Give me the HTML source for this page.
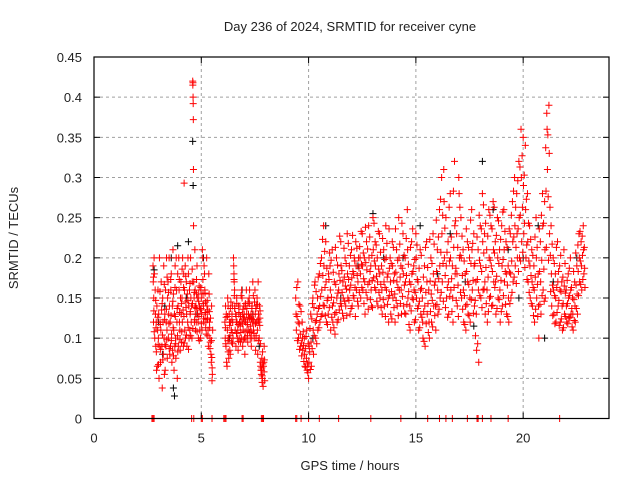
<!DOCTYPE html>
<html><head><meta charset="utf-8"><style>
html,body{margin:0;padding:0;background:#fff}
svg{display:block;font-family:"Liberation Sans",sans-serif}
</style></head><body>
<svg id="chart" width="640" height="480" viewBox="0 0 640 480" xmlns="http://www.w3.org/2000/svg">
<rect width="640" height="480" fill="#fff"/>
<text x="350" y="31" font-size="13" text-anchor="middle" fill="#222">Day 236 of 2024, SRMTID for receiver cyne</text>
<text x="0" y="0" font-size="13" text-anchor="middle" fill="#222" transform="translate(18,238) rotate(-90)">SRMTID / TECUs</text>
<text x="350" y="470" font-size="13" text-anchor="middle" fill="#222">GPS time / hours</text>
<g id="grid"></g>
<g id="zeros"></g>
<g id="blk"></g>
<g id="red"></g>
<g id="axes"></g>
</svg>
<script>
const xTicks = [0,5,10,15,20];
const yTicks = [0,0.05,0.1,0.15,0.2,0.25,0.3,0.35,0.4,0.45];
const yTickLabels = ["0","0.05","0.1","0.15","0.2","0.25","0.3","0.35","0.4","0.45"];
const redHours = [2.75,2.8,2.85,2.9,2.95,3.0,3.05,3.1,3.15,3.2,3.25,3.3,3.35,3.4,3.45,3.5,3.55,3.6,3.65,3.7,3.75,3.8,3.85,3.9,3.95,4.0,4.05,4.1,4.15,4.2,4.25,4.3,4.35,4.4,4.45,4.5,4.55,4.6,4.65,4.7,4.75,4.8,4.85,4.9,4.95,5.0,5.05,5.1,5.15,5.2,5.25,5.3,5.35,5.4,5.45,5.5,
6.1,6.15,6.2,6.25,6.3,6.35,6.4,6.45,6.5,6.55,6.6,6.65,6.7,6.75,6.8,6.85,6.9,6.95,7.0,7.05,7.1,7.15,7.2,7.25,7.3,7.35,7.4,7.45,7.5,7.55,7.6,7.65,7.7,7.75,7.8,7.85,7.9,
9.4,9.5,9.6,9.7,9.8,9.9,10.0,10.1,10.2,10.3,10.4,10.5,10.6,10.7,10.8,10.9,11.0,11.1,11.2,11.3,11.4,11.5,11.6,11.7,11.8,11.9,12.0,12.1,12.2,12.3,12.4,12.5,12.6,12.7,12.8,12.9,13.0,13.1,13.2,13.3,13.4,13.5,13.6,13.7,13.8,13.9,14.0,14.1,14.2,14.3,14.4,14.5,14.6,14.7,14.8,14.9,15.0,15.1,15.2,15.3,15.4,15.5,15.6,15.7,15.8,15.9,16.0,16.1,16.2,16.3,16.4,16.5,16.6,16.7,16.8,16.9,17.0,17.1,17.2,17.3,17.4,17.5,17.6,17.7,17.8,17.9,18.0,18.1,18.2,18.3,18.4,18.5,18.6,18.7,18.8,18.9,19.0,19.1,19.2,19.3,19.4,19.5,19.6,19.7,19.8,19.9,20.0,20.1,20.2,20.3,20.4,20.5,20.6,20.7,20.8,20.9,21.0,21.1,21.2,21.3,21.4,21.5,21.6,21.7,21.8,21.9,22.0,22.1,22.2,22.3,22.4,22.5,22.6,22.7,22.8];
const redValues = [[.19,.17,.12,.15],[.2,.18,.1],[.16,.13,.09],[.12,.06,.14],[.065,.11,.16],[.1,.13,.05],[.2,.09,.12],[.07,.11,.17],[.135,.09,.038],[.15,.12,.08],[.19,.1,.055],[.13,.06,.16],[.09,.12,.2],[.11,.075,.15],[.17,.1,.13],[.2,.14,.08],[.12,.09,.16],[.18,.105,.07],[.14,.085,.21],[.155,.11,.06],[.13,.09,.19],[.1,.075,.2],[.16,.12,.05],[.18,.14,.09],[.2,.16,.12],[.11,.085,.15],[.17,.13,.095],[.15,.12,.2],[.135,.09,.18],[.293,.16,.11],[.19,.1,.145],[.17,.13,.09],[.155,.12,.2],[.18,.14,.1],[.16,.11,.13],[.2,.15,.12],[.14,.1,.17],[.42,.415,.418,.40,.392,.372,.31,.24],[.17,.15,.12],[.21,.16,.13,.11],[.14,.12,.155],[.19,.15,.13],[.12,.1,.155],[.165,.14,.11],[.135,.1,.16],[.15,.13,.11],[.21,.2,.155],[.14,.12,.19],[.18,.16,.13],[.145,.12,.105],[.2,.14,.125],[.135,.11,.09],[.18,.155,.12],[.1,.095,.125],[.08,.07,.14],[.047,.055,.11],
[.12,.1,.14],[.09,.13,.07],[.065,.11,.15],[.14,.1,.075],[.13,.12,.085],[.08,.12,.145],[.11,.095,.13],[.14,.12,.1],[.2,.19,.18,.17],[.16,.14,.11],[.13,.09,.12],[.15,.12,.1],[.11,.085,.14],[.13,.1,.12],[.14,.115,.095],[.12,.1,.16],[.15,.13,.09],[.11,.125,.14],[.13,.1,.08],[.14,.12,.1],[.16,.13,.11],[.12,.095,.145],[.13,.11,.15],[.16,.125,.1],[.115,.13,.09],[.1,.14,.12],[.17,.13,.11],[.12,.1,.145],[.16,.13,.085],[.1,.14,.12],[.15,.11,.08],[.17,.13,.12],[.1,.14,.125],[.07,.065,.06],[.055,.06,.075,.045],[.05,.068,.04],[.065,.07,.09],
[.15,.13,.11],[.17,.12,.1],[.14,.105,.09],[.12,.1,.085],[.1,.08,.065],[.075,.11,.06],[.05,.07,.09],[.13,.095,.065],[.15,.11,.08],[.17,.12,.1],[.13,.15,.11],[.18,.14,.12],[.2,.16,.13],[.24,.19,.14],[.22,.17,.12],[.15,.13,.18],[.19,.16,.11],[.21,.14,.12],[.17,.13,.105],[.2,.15,.12],[.16,.18,.135],[.22,.19,.14],[.17,.15,.125],[.2,.165,.14],[.23,.18,.15],[.19,.16,.13],[.21,.175,.14],[.18,.15,.2],[.22,.19,.16],[.17,.14,.2],[.2,.18,.15],[.23,.19,.16],[.2,.17,.13],[.22,.185,.15],[.24,.2,.17],[.19,.16,.14],[.25,.21,.175],[.22,.19,.16],[.2,.17,.14],[.23,.18,.15],[.19,.16,.13],[.21,.17,.14],[.24,.2,.16],[.18,.15,.12],[.2,.17,.13],[.22,.19,.15],[.18,.155,.12],[.21,.17,.14],[.25,.2,.16],[.19,.16,.13],[.23,.18,.14],[.2,.17,.13],[.26,.21,.15],[.17,.14,.11],[.22,.18,.15],[.19,.16,.12],[.23,.2,.15],[.17,.14,.11],[.21,.16,.13],[.15,.12,.1],[.19,.14,.09],[.22,.17,.13],[.16,.12,.1],[.2,.155,.12],[.23,.18,.14],[.17,.14,.11],[.21,.16,.13],[.26,.19,.15],[.3,.23,.17],[.31,.27,.2],[.25,.19,.15],[.22,.17,.13],[.28,.2,.16],[.19,.15,.12],[.32,.24,.18],[.23,.18,.14],[.3,.28,.2],[.25,.2,.15],[.21,.16,.12],[.18,.14,.11],[.22,.17,.13],[.2,.15,.12],[.26,.21,.16],[.23,.19,.14],[.17,.13,.085],[.21,.16,.07],[.24,.19,.15],[.28,.22,.16],[.23,.17,.13],[.21,.16,.12],[.26,.2,.15],[.24,.19,.14],[.27,.21,.17],[.22,.17,.13],[.25,.2,.15],[.21,.16,.12],[.24,.19,.14],[.26,.21,.17],[.22,.18,.13],[.19,.15,.12],[.23,.18,.15],[.27,.22,.17],[.3,.24,.19],[.28,.23,.2],[.32,.25,.2],[.36,.3,.22],[.35,.29,.23],[.34,.26,.2],[.28,.22,.17],[.24,.19,.15],[.21,.17,.14],[.19,.16,.12],[.25,.2,.15],[.18,.14,.1],[.22,.17,.13],[.28,.24,.16],[.27,.21,.15],[.38,.36,.31],[.39,.33,.23],[.24,.18,.14],[.2,.16,.13],[.18,.15,.12],[.22,.17,.14],[.19,.16,.12],[.17,.14,.11],[.21,.165,.13],[.16,.14,.12],[.18,.15,.125],[.2,.16,.13],[.15,.13,.11],[.17,.14,.12],[.19,.155,.13],[.23,.2,.17],[.22,.19,.16],[.24,.21,.18]];
const redHours2 = [2.775,2.875,2.975,3.075,3.175,3.275,3.375,3.475,3.575,3.675,3.775,3.875,3.975,4.075,4.175,4.275,4.375,4.475,4.575,4.675,4.775,4.875,4.975,5.075,5.175,5.275,5.375,5.475,
6.125,6.225,6.325,6.425,6.525,6.625,6.725,6.825,6.925,7.025,7.125,7.225,7.325,7.425,7.525,7.625,7.725,7.825,7.925,
9.45,9.55,9.65,9.75,9.85,9.95,10.05,10.15,10.25,10.35,10.45,10.55,10.65,10.75,10.85,10.95,11.05,11.15,11.25,11.35,11.45,11.55,11.65,11.75,11.85,11.95,12.05,12.15,12.25,12.35,12.45,12.55,12.65,12.75,12.85,12.95,13.05,13.15,13.25,13.35,13.45,13.55,13.65,13.75,13.85,13.95,14.05,14.15,14.25,14.35,14.45,14.55,14.65,14.75,14.85,14.95,15.05,15.15,15.25,15.35,15.45,15.55,15.65,15.75,15.85,15.95,16.05,16.15,16.25,16.35,16.45,16.55,16.65,16.75,16.85,16.95,17.05,17.15,17.25,17.35,17.45,17.55,17.65,17.75,17.85,17.95,18.05,18.15,18.25,18.35,18.45,18.55,18.65,18.75,18.85,18.95,19.05,19.15,19.25,19.35,19.45,19.55,19.65,19.75,19.85,19.95,20.05,20.15,20.25,20.35,20.45,20.55,20.65,20.75,20.85,20.95,21.05,21.15,21.25,21.35,21.45,21.55,21.65,21.75,21.85,21.95,22.05,22.15,22.25,22.35,22.45,22.55,22.65,22.75,22.85];
const redValues2 = [[.176,.134,.108],[.147,.113,.083],[.126,.092,.067],[.158,.117,.086],[.143,.104,.073],[.167,.123,.092],[.136,.098,.176],[.157,.118,.087],[.173,.128,.097],[.146,.113,.078],[.163,.127,.093],[.137,.103,.083],[.173,.132,.098],[.143,.108,.186],[.163,.127,.094],[.177,.138,.104],[.147,.113,.086],[.168,.133,.103],[.186,.143,.112],[.157,.123,.138],[.173,.137,.108],[.146,.127,.097],[.163,.137,.118],[.173,.143,.124],[.156,.132,.113],[.147,.123,.103],[.133,.113,.087],[.097,.076,.063],
[.113,.093,.126],[.127,.097,.083],[.116,.103,.137],[.123,.107,.093],[.173,.153,.137],[.127,.106,.143],[.117,.096,.132],[.127,.107,.153],[.118,.136,.098],[.123,.108,.143],[.137,.117,.103],[.126,.143,.107],[.108,.124,.137],[.153,.123,.106],[.118,.137,.103],[.142,.123,.097],[.116,.134,.093],[.063,.053,.083],[.058,.073,.047],
[.163,.127,.097],[.142,.118,.086],[.133,.094,.078],[.108,.091,.071],[.087,.064,.102],[.068,.057,.093],[.083,.112,.061],[.124,.087,.143],[.138,.103,.166],[.158,.122,.093],[.176,.137,.113],[.193,.152,.127],[.223,.178,.141],[.208,.163,.128],[.187,.147,.117],[.173,.138,.206],[.197,.151,.126],[.182,.144,.113],[.213,.167,.132],[.191,.156,.123],[.227,.172,.143],[.184,.157,.131],[.212,.176,.146],[.193,.161,.128],[.218,.173,.147],[.203,.166,.137],[.228,.183,.153],[.196,.163,.127],[.212,.178,.146],[.187,.157,.214],[.233,.192,.163],[.206,.174,.143],[.238,.194,.157],[.211,.167,.136],[.226,.183,.148],[.203,.172,.138],[.243,.196,.163],[.216,.177,.146],[.233,.186,.157],[.207,.167,.138],[.224,.182,.148],[.198,.163,.127],[.218,.176,.142],[.236,.187,.153],[.193,.158,.124],[.213,.172,.138],[.236,.182,.147],[.197,.163,.128],[.217,.176,.143],[.243,.187,.152],[.203,.166,.131],[.224,.178,.142],[.192,.158,.117],[.213,.167,.134],[.236,.183,.148],[.198,.157,.123],[.216,.173,.137],[.187,.146,.113],[.203,.162,.126],[.176,.133,.096],[.213,.157,.118],[.188,.143,.107],[.223,.171,.133],[.193,.147,.114],[.217,.166,.128],[.247,.183,.142],[.226,.174,.136],[.273,.207,.157],[.253,.193,.146],[.237,.178,.138],[.207,.163,.126],[.263,.196,.152],[.226,.174,.133],[.283,.213,.163],[.246,.187,.147],[.213,.166,.127],[.263,.203,.157],[.227,.178,.136],[.196,.153,.117],[.236,.183,.142],[.213,.167,.128],[.247,.193,.148],[.218,.172,.131],[.193,.147,.103],[.226,.173,.093],[.253,.197,.153],[.236,.183,.138],[.266,.206,.161],[.243,.188,.143],[.227,.176,.133],[.253,.197,.152],[.236,.183,.141],[.263,.206,.163],[.228,.177,.137],[.246,.193,.148],[.223,.172,.133],[.257,.198,.153],[.233,.183,.142],[.213,.166,.127],[.236,.182,.143],[.253,.196,.157],[.283,.226,.176],[.263,.213,.168],[.296,.236,.183],[.313,.253,.196],[.327,.263,.207],[.303,.243,.188],[.273,.216,.173],[.243,.196,.157],[.223,.178,.143],[.203,.163,.128],[.226,.176,.136],[.213,.167,.127],[.236,.183,.142],[.253,.197,.153],[.243,.186,.146],[.337,.283,.213],[.353,.276,.197],[.263,.203,.158],[.217,.166,.128],[.193,.153,.118],[.213,.163,.132],[.183,.147,.116],[.203,.158,.124],[.176,.143,.113],[.193,.156,.127],[.172,.143,.118],[.187,.153,.126],[.163,.137,.114],[.183,.148,.122],[.206,.166,.137],[.216,.183,.153],[.233,.196,.167],[.227,.203,.173],[.213,.187,.163]];
const blackHours = [2.8,3.0,3.2,3.3,3.6,3.7,3.75,3.9,4.3,4.4,4.6,4.62,4.8,5.1,6.3,6.9,7.4,7.7,10.2,10.8,11.5,12.3,13.0,13.5,14.4,15.2,16.0,16.6,17.3,17.7,18.1,18.6,19.3,19.8,20.0,20.7,21.0,21.4,22.0,22.5];
const blackValues = [.185,.12,.08,.14,.2,.038,.028,.215,.15,.22,.345,.29,.13,.2,.1,.16,.13,.09,.1,.24,.15,.19,.255,.2,.2,.24,.18,.23,.17,.115,.32,.26,.21,.15,.2,.24,.1,.17,.16,.2];
const zeroHours = [2.7,2.75,2.8,4.55,4.65,5.0,5.05,5.5,6.05,6.1,6.15,6.9,6.95,7.8,7.85,7.9,9.4,9.45,9.65,10.0,10.5,11.4,12.9,14.3,15.55,16.1,16.4,16.7,17.4,17.85,17.9,18.1,18.5,19.3,21.7];

const L=94,R=609,T=57,B=418.5,XMAX=24,YMAX=0.45,SPREAD=0.045;
const sx=h=>L+(R-L)*h/XMAX;
const sy=v=>B-(B-T)*v/YMAX;
const NS="http://www.w3.org/2000/svg";
function mk(tag,attrs,parent){const e=document.createElementNS(NS,tag);for(const k in attrs)e.setAttribute(k,attrs[k]);parent.appendChild(e);return e;}
const grid=document.getElementById('grid'),axes=document.getElementById('axes');
yTicks.forEach((v,i)=>{
  if(v>0&&v<YMAX){const g=mk('line',{x1:L,x2:R,y1:sy(v),y2:sy(v),stroke:'#a0a0a0','stroke-dasharray':'3,3'},grid);
  
  }
  const t=mk('line',{x1:L,x2:L+6,y1:sy(v),y2:sy(v),stroke:'#000'},axes);
  
  
  const t2=mk('line',{x1:R-6,x2:R,y1:sy(v),y2:sy(v),stroke:'#000'},axes);
  
  
  const lb=mk('text',{x:L-12,y:sy(v)+5,'font-size':13,'text-anchor':'end',fill:'#222'},axes);
  lb.textContent=yTickLabels[i];
  
  
});
xTicks.forEach(h=>{
  if(h>0){const g=mk('line',{x1:sx(h),x2:sx(h),y1:T,y2:B,stroke:'#a0a0a0','stroke-dasharray':'3,3'},grid);
  
  }
  const t=mk('line',{x1:sx(h),x2:sx(h),y1:B,y2:B-6,stroke:'#000'},axes);
  
  
  const t2=mk('line',{x1:sx(h),x2:sx(h),y1:T,y2:T+6,stroke:'#000'},axes);
  
  
  const lb=mk('text',{x:sx(h),y:B+24,'font-size':13,'text-anchor':'middle',fill:'#222'},axes);
  lb.textContent=String(h);
  
  
});
const frame=mk('rect',{x:L,y:T,width:R-L,height:B-T,fill:'none',stroke:'#000','stroke-width':1.2},axes);


function cross(x,y,col,parent,name){
  const p=mk('path',{d:`M${x-3.5},${y}h7M${x},${y-3.5}v7`,stroke:col,'stroke-width':1,fill:'none'},parent);
  
  
}
const red=document.getElementById('red'),blk=document.getElementById('blk'),zer=document.getElementById('zeros');
zeroHours.forEach(h=>cross(sx(h),sy(0),'#f00',zer,'zero-point'));
blackHours.forEach((h,i)=>cross(sx(h),sy(blackValues[i]),'#000',blk,'black-point'));
function drawRed(hours,values){
  hours.forEach((h,i)=>{
    const vals=values[i];
    vals.forEach((v,j)=>cross(sx(h+SPREAD*j/vals.length),sy(v),'#f00',red,'red-point'));
  });
}
drawRed(redHours,redValues);
drawRed(redHours2,redValues2);
</script>
</body></html>
